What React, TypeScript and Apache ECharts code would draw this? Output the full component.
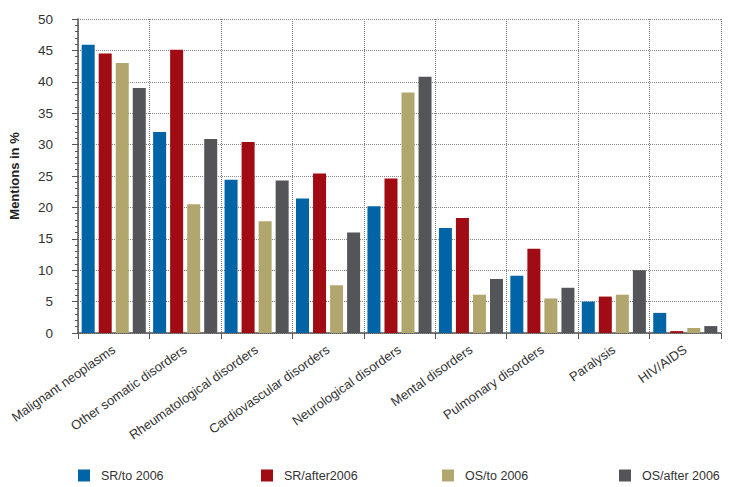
import React, { useEffect, useRef } from "react";
import * as echarts from "echarts";

const categories = [
  "Malignant neoplasms",
  "Other somatic disorders",
  "Rheumatological disorders",
  "Cardiovascular disorders",
  "Neurological disorders",
  "Mental disorders",
  "Pulmonary disorders",
  "Paralysis",
  "HIV/AIDS",
];
const seriesNames = ["SR/to 2006", "SR/after2006", "OS/to 2006", "OS/after 2006"];
const srTo2006 = [45.9, 32.0, 24.4, 21.4, 20.2, 16.7, 9.1, 5.0, 3.2];
const srAfter2006 = [44.5, 45.1, 30.4, 25.4, 24.6, 18.3, 13.4, 5.8, 0.3];
const osTo2006 = [43.0, 20.5, 17.8, 7.6, 38.3, 6.1, 5.5, 6.1, 0.8];
const osAfter2006 = [39.0, 30.9, 24.3, 16.0, 40.8, 8.6, 7.2, 10.0, 1.1];
const colors = ["#0064a7", "#a10b13", "#b2a66f", "#535559"];
const legendLeft = [73, 256, 437, 614];

const FONT = "'Liberation Sans', Arial, sans-serif";

export default function App() {
  const ref = useRef<HTMLDivElement>(null);
  useEffect(() => {
    if (!ref.current) return;
    const chart = echarts.init(ref.current, null, { renderer: "svg" });
    const data = [srTo2006, srAfter2006, osTo2006, osAfter2006];
    chart.setOption({
      animation: false,
      textStyle: { fontFamily: FONT },
      grid: { left: 73, right: 11, top: 19, bottom: 154, containLabel: false },
      legend: seriesNames.map((n, i) => ({
        data: [n],
        left: legendLeft[i],
        top: 464,
        itemWidth: 12,
        itemHeight: 12,
        icon: "rect",
        textStyle: { fontFamily: FONT, fontSize: 12.5, color: "#333", padding: [0, 0, 0, 6] },
      })),
      xAxis: {
        type: "category",
        data: categories,
        axisLine: { lineStyle: { color: "#555", width: 1.5 } },
        axisTick: { show: true, length: 6, lineStyle: { color: "#555" }, alignWithLabel: false },
        axisLabel: {
          rotate: 35,
          interval: 0,
          margin: 15,
          fontSize: 13,
          color: "#333",
          fontFamily: FONT,
        },
        splitLine: {
          show: true,
          interval: 0,
          lineStyle: { color: "#777", type: [1, 1], width: 1 },
        },
      },
      yAxis: {
        type: "value",
        min: 0,
        max: 50,
        interval: 5,
        name: "Mentions in %",
        nameLocation: "middle",
        nameGap: 57,
        nameTextStyle: { fontWeight: "bold", fontSize: 13, color: "#222", fontFamily: FONT },
        axisLine: { show: true, lineStyle: { color: "#555", width: 1.5 } },
        axisTick: { show: true, length: 6, lineStyle: { color: "#555" } },
        minorTick: { show: true, splitNumber: 5, length: 3, lineStyle: { color: "#555" } },
        axisLabel: { fontSize: 13.5, color: "#333", margin: 25, fontFamily: FONT },
        splitLine: { show: true, lineStyle: { color: "#888", type: [1, 1], width: 1 } },
      },
      series: seriesNames.map((n, i) => ({
        name: n,
        type: "bar",
        data: data[i],
        barWidth: 13,
        barGap: "31%",
        itemStyle: { color: colors[i] },
      })),
    });
    return () => chart.dispose();
  }, []);
  return <div ref={ref} style={{ width: 732, height: 487, position: "absolute", left: 0, top: 0, background: "#fff" }} />;
}
